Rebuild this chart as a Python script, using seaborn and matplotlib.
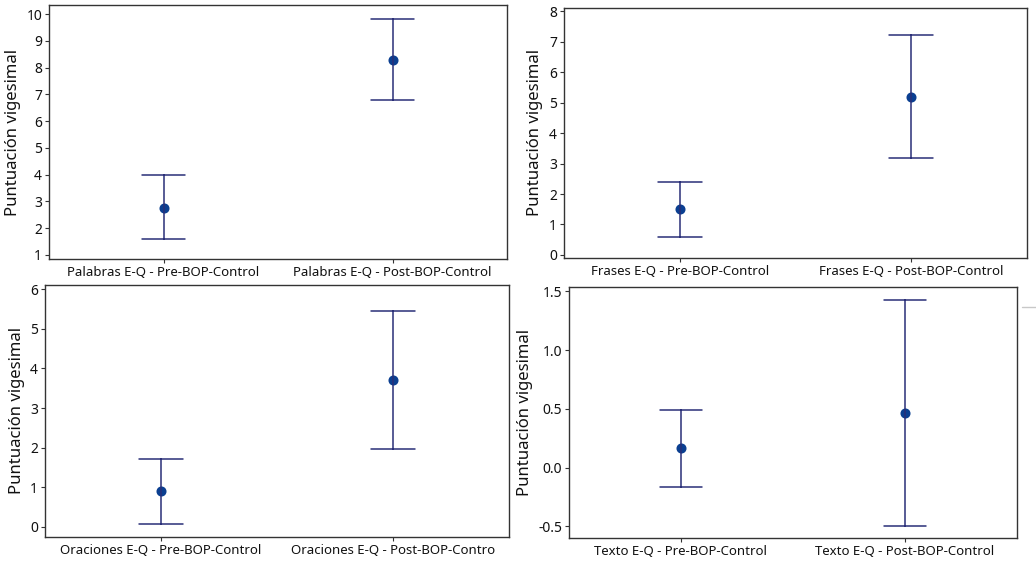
import matplotlib
matplotlib.use("Agg")
import matplotlib.pyplot as plt
import seaborn as sns
import pandas as pd
from matplotlib.lines import Line2D

# ---- data ----
labels_palabras = ["Palabras E-Q - Pre-BOP-Control", "Palabras E-Q - Post-BOP-Control"]
mean_palabras = [2.75, 8.28]
lo_palabras = [1.59, 6.80]
hi_palabras = [3.97, 9.80]

labels_frases = ["Frases E-Q - Pre-BOP-Control", "Frases E-Q - Post-BOP-Control"]
mean_frases = [1.50, 5.18]
lo_frases = [0.60, 3.18]
hi_frases = [2.41, 7.21]

labels_oraciones = ["Oraciones E-Q - Pre-BOP-Control", "Oraciones E-Q - Post-BOP-Contro"]
mean_oraciones = [0.90, 3.71]
lo_oraciones = [0.06, 1.96]
hi_oraciones = [1.72, 5.46]

labels_texto = ["Texto E-Q - Pre-BOP-Control", "Texto E-Q - Post-BOP-Control"]
mean_texto = [0.164, 0.462]
lo_texto = [-0.168, -0.497]
hi_texto = [0.487, 1.427]

yticks_palabras = list(range(1, 11))
yticks_frases = list(range(0, 9))
yticks_oraciones = list(range(0, 7))
yticks_texto = [-0.5, 0.0, 0.5, 1.0, 1.5]

ylabel = "Puntuación vigesimal"

LINE_COLOR = "#2a2f78"
MARKER_COLOR = "#0b3f91"

sns.set_theme(style="white")
plt.rcParams["font.family"] = ["Noto Sans", "DejaVu Sans"]
plt.rcParams["text.color"] = "#111111"

fig = plt.figure(figsize=(10.36, 5.64), dpi=100)
fig.patch.set_facecolor("white")

panels = [
    ([0.0473, 0.5408, 0.4421, 0.4503], labels_palabras, mean_palabras, lo_palabras, hi_palabras,
     yticks_palabras, (0.85, 10.34), "{:.0f}"),
    ([0.5444, 0.5426, 0.4469, 0.4432], labels_frases, mean_frases, lo_frases, hi_frases,
     yticks_frases, (-0.10, 8.11), "{:.0f}"),
    ([0.0434, 0.0479, 0.4479, 0.4468], labels_oraciones, mean_oraciones, lo_oraciones, hi_oraciones,
     yticks_oraciones, (-0.26, 6.11), "{:.0f}"),
    ([0.5492, 0.0461, 0.4325, 0.4456], labels_texto, mean_texto, lo_texto, hi_texto,
     yticks_texto, (-0.60, 1.54), "{:.1f}"),
]

for rect, labels, means, los, his, yticks, ylim, fmt in panels:
    ax = fig.add_axes(rect)
    rows = []
    for lab, m, lo, hi in zip(labels, means, los, his):
        for v in (lo, m, hi):
            rows.append({"grupo": lab, "valor": v})
    df = pd.DataFrame(rows)
    sns.pointplot(
        data=df, x="grupo", y="valor", order=labels,
        estimator="median", errorbar=("pi", 100),
        linestyle="none", markers="o", markersize=5.2,
        color=MARKER_COLOR, capsize=0.19,
        err_kws={"color": LINE_COLOR, "linewidth": 1.1},
        ax=ax,
    )
    ax.set_xlim(-0.5, 1.5)
    ax.set_ylim(*ylim)
    ax.set_yticks(yticks)
    ax.set_yticklabels([fmt.format(t) for t in yticks])
    ax.set_xlabel("")
    ax.set_ylabel(ylabel, fontsize=12, labelpad=4, color="#111111")
    for s in ax.spines.values():
        s.set_visible(True)
        s.set_color("#333333")
        s.set_linewidth(1.0)
    ax.tick_params(axis="both", which="both", direction="out", length=3, width=0.8,
                   color="#333333", left=True, bottom=True, top=False, right=False,
                   pad=2, labelcolor="#111111")
    ax.tick_params(axis="y", labelsize=10)
    ax.tick_params(axis="x", labelsize=9.5)
    ax.grid(False)

# faint screenshot artefacts
fig.add_artist(Line2D([1022 / 1036, 1.0], [1 - 307 / 564, 1 - 307 / 564],
                      color="#c8c8c8", linewidth=1.0))

fig.savefig("out.png", dpi=100, facecolor="white")
